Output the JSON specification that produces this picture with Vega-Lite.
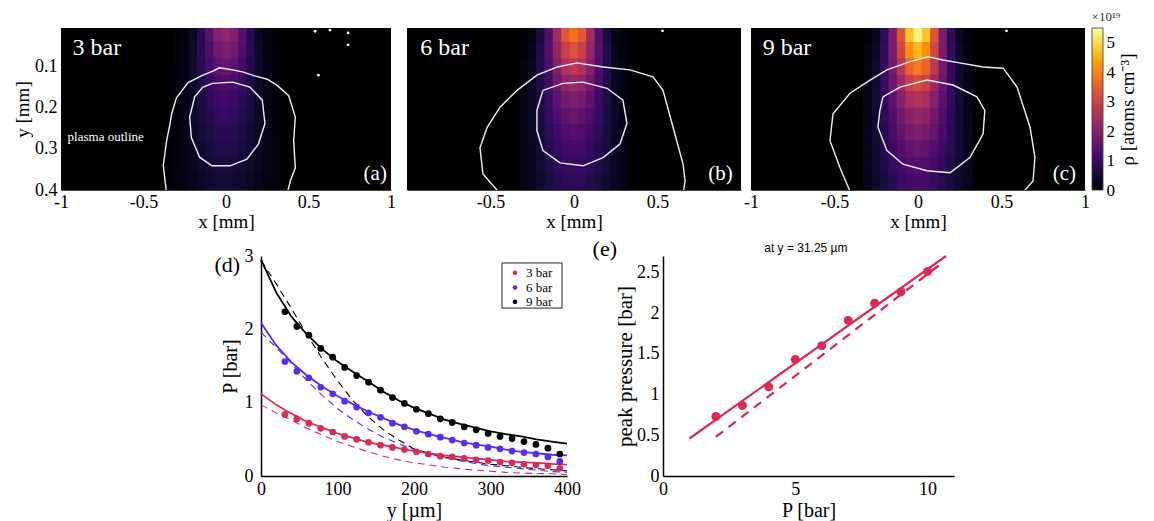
{
"$schema":"https://vega.github.io/schema/vega-lite/v6.json",
"padding":{"left":13,"top":10,"right":5,"bottom":5},
"config":{
 "font":"Liberation Serif",
 "view":{"stroke":null},
 "axis":{"labelFont":"Liberation Serif","titleFont":"Liberation Serif","labelColor":"black","titleColor":"black","titleFontWeight":"normal","grid":false,"ticks":false,"labelFlush":false,"domainColor":"black","labelFontSize":18,"titleFontSize":20,"labelPadding":4,"titlePadding":2},
 "legend":{"labelFont":"Liberation Serif","titleFont":"Liberation Serif"},
 "title":{"font":"Liberation Serif","fontWeight":"normal","color":"black"}
},
"datasets":{
"ha":[
{"x":-0.3,"y":0.02,"v":0.04},{"x":-0.25,"y":0.02,"v":0.12},{"x":-0.2,"y":0.02,"v":0.35},{"x":-0.15,"y":0.02,"v":0.78},{"x":-0.1,"y":0.02,"v":1.39},{"x":-0.05,"y":0.02,"v":1.96},{"x":0,"y":0.02,"v":2.2},{"x":0.05,"y":0.02,"v":1.96},{"x":0.1,"y":0.02,"v":1.39},{"x":0.15,"y":0.02,"v":0.78},{"x":0.2,"y":0.02,"v":0.35},{"x":0.25,"y":0.02,"v":0.12},{"x":0.3,"y":0.02,"v":0.04},
{"x":-0.3,"y":0.06,"v":0.05},{"x":-0.25,"y":0.06,"v":0.16},{"x":-0.2,"y":0.06,"v":0.39},{"x":-0.15,"y":0.06,"v":0.78},{"x":-0.1,"y":0.06,"v":1.27},{"x":-0.05,"y":0.06,"v":1.72},{"x":0,"y":0.06,"v":1.9},{"x":0.05,"y":0.06,"v":1.72},{"x":0.1,"y":0.06,"v":1.27},{"x":0.15,"y":0.06,"v":0.78},{"x":0.2,"y":0.06,"v":0.39},{"x":0.25,"y":0.06,"v":0.16},{"x":0.3,"y":0.06,"v":0.05},
{"x":-0.3,"y":0.1,"v":0.07},{"x":-0.25,"y":0.1,"v":0.18},{"x":-0.2,"y":0.1,"v":0.4},{"x":-0.15,"y":0.1,"v":0.73},{"x":-0.1,"y":0.1,"v":1.13},{"x":-0.05,"y":0.1,"v":1.47},{"x":0,"y":0.1,"v":1.6},{"x":0.05,"y":0.1,"v":1.47},{"x":0.1,"y":0.1,"v":1.13},{"x":0.15,"y":0.1,"v":0.73},{"x":0.2,"y":0.1,"v":0.4},{"x":0.25,"y":0.1,"v":0.18},{"x":0.3,"y":0.1,"v":0.07},
{"x":-0.3,"y":0.14,"v":0.08},{"x":-0.25,"y":0.14,"v":0.19},{"x":-0.2,"y":0.14,"v":0.38},{"x":-0.15,"y":0.14,"v":0.65},{"x":-0.1,"y":0.14,"v":0.96},{"x":-0.05,"y":0.14,"v":1.21},{"x":0,"y":0.14,"v":1.3},{"x":0.05,"y":0.14,"v":1.21},{"x":0.1,"y":0.14,"v":0.96},{"x":0.15,"y":0.14,"v":0.65},{"x":0.2,"y":0.14,"v":0.38},{"x":0.25,"y":0.14,"v":0.19},{"x":0.3,"y":0.14,"v":0.08},
{"x":-0.3,"y":0.18,"v":0.1},{"x":-0.25,"y":0.18,"v":0.2},{"x":-0.2,"y":0.18,"v":0.37},{"x":-0.15,"y":0.18,"v":0.6},{"x":-0.1,"y":0.18,"v":0.84},{"x":-0.05,"y":0.18,"v":1.03},{"x":0,"y":0.18,"v":1.1},{"x":0.05,"y":0.18,"v":1.03},{"x":0.1,"y":0.18,"v":0.84},{"x":0.15,"y":0.18,"v":0.6},{"x":0.2,"y":0.18,"v":0.37},{"x":0.25,"y":0.18,"v":0.2},{"x":0.3,"y":0.18,"v":0.1},
{"x":-0.3,"y":0.22,"v":0.11},{"x":-0.25,"y":0.22,"v":0.21},{"x":-0.2,"y":0.22,"v":0.36},{"x":-0.15,"y":0.22,"v":0.55},{"x":-0.1,"y":0.22,"v":0.75},{"x":-0.05,"y":0.22,"v":0.89},{"x":0,"y":0.22,"v":0.95},{"x":0.05,"y":0.22,"v":0.89},{"x":0.1,"y":0.22,"v":0.75},{"x":0.15,"y":0.22,"v":0.55},{"x":0.2,"y":0.22,"v":0.36},{"x":0.25,"y":0.22,"v":0.21},{"x":0.3,"y":0.22,"v":0.11},
{"x":-0.3,"y":0.26,"v":0.11},{"x":-0.25,"y":0.26,"v":0.21},{"x":-0.2,"y":0.26,"v":0.34},{"x":-0.15,"y":0.26,"v":0.49},{"x":-0.1,"y":0.26,"v":0.64},{"x":-0.05,"y":0.26,"v":0.76},{"x":0,"y":0.26,"v":0.8},{"x":0.05,"y":0.26,"v":0.76},{"x":0.1,"y":0.26,"v":0.64},{"x":0.15,"y":0.26,"v":0.49},{"x":0.2,"y":0.26,"v":0.34},{"x":0.25,"y":0.26,"v":0.21},{"x":0.3,"y":0.26,"v":0.11},
{"x":-0.3,"y":0.3,"v":0.12},{"x":-0.25,"y":0.3,"v":0.21},{"x":-0.2,"y":0.3,"v":0.32},{"x":-0.15,"y":0.3,"v":0.45},{"x":-0.1,"y":0.3,"v":0.58},{"x":-0.05,"y":0.3,"v":0.67},{"x":0,"y":0.3,"v":0.7},{"x":0.05,"y":0.3,"v":0.67},{"x":0.1,"y":0.3,"v":0.58},{"x":0.15,"y":0.3,"v":0.45},{"x":0.2,"y":0.3,"v":0.32},{"x":0.25,"y":0.3,"v":0.21},{"x":0.3,"y":0.3,"v":0.12},
{"x":-0.3,"y":0.34,"v":0.12},{"x":-0.25,"y":0.34,"v":0.2},{"x":-0.2,"y":0.34,"v":0.3},{"x":-0.15,"y":0.34,"v":0.4},{"x":-0.1,"y":0.34,"v":0.5},{"x":-0.05,"y":0.34,"v":0.57},{"x":0,"y":0.34,"v":0.6},{"x":0.05,"y":0.34,"v":0.57},{"x":0.1,"y":0.34,"v":0.5},{"x":0.15,"y":0.34,"v":0.4},{"x":0.2,"y":0.34,"v":0.3},{"x":0.25,"y":0.34,"v":0.2},{"x":0.3,"y":0.34,"v":0.12},
{"x":-0.3,"y":0.38,"v":0.12},{"x":-0.25,"y":0.38,"v":0.18},{"x":-0.2,"y":0.38,"v":0.26},{"x":-0.15,"y":0.38,"v":0.35},{"x":-0.1,"y":0.38,"v":0.43},{"x":-0.05,"y":0.38,"v":0.48},{"x":0,"y":0.38,"v":0.5},{"x":0.05,"y":0.38,"v":0.48},{"x":0.1,"y":0.38,"v":0.43},{"x":0.15,"y":0.38,"v":0.35},{"x":0.2,"y":0.38,"v":0.26},{"x":0.25,"y":0.38,"v":0.18},{"x":0.3,"y":0.38,"v":0.12}
],
"hb":[
{"x":-0.3,"y":0.02,"v":0.06},{"x":-0.25,"y":0.02,"v":0.21},{"x":-0.2,"y":0.02,"v":0.6},{"x":-0.15,"y":0.02,"v":1.34},{"x":-0.1,"y":0.02,"v":2.39},{"x":-0.05,"y":0.02,"v":3.39},{"x":0,"y":0.02,"v":3.8},{"x":0.05,"y":0.02,"v":3.39},{"x":0.1,"y":0.02,"v":2.39},{"x":0.15,"y":0.02,"v":1.34},{"x":0.2,"y":0.02,"v":0.6},{"x":0.25,"y":0.02,"v":0.21},{"x":0.3,"y":0.02,"v":0.06},
{"x":-0.3,"y":0.06,"v":0.09},{"x":-0.25,"y":0.06,"v":0.27},{"x":-0.2,"y":0.06,"v":0.67},{"x":-0.15,"y":0.06,"v":1.35},{"x":-0.1,"y":0.06,"v":2.21},{"x":-0.05,"y":0.06,"v":2.99},{"x":0,"y":0.06,"v":3.3},{"x":0.05,"y":0.06,"v":2.99},{"x":0.1,"y":0.06,"v":2.21},{"x":0.15,"y":0.06,"v":1.35},{"x":0.2,"y":0.06,"v":0.67},{"x":0.25,"y":0.06,"v":0.27},{"x":0.3,"y":0.06,"v":0.09},
{"x":-0.3,"y":0.1,"v":0.12},{"x":-0.25,"y":0.1,"v":0.32},{"x":-0.2,"y":0.1,"v":0.7},{"x":-0.15,"y":0.1,"v":1.28},{"x":-0.1,"y":0.1,"v":1.98},{"x":-0.05,"y":0.1,"v":2.57},{"x":0,"y":0.1,"v":2.8},{"x":0.05,"y":0.1,"v":2.57},{"x":0.1,"y":0.1,"v":1.98},{"x":0.15,"y":0.1,"v":1.28},{"x":0.2,"y":0.1,"v":0.7},{"x":0.25,"y":0.1,"v":0.32},{"x":0.3,"y":0.1,"v":0.12},
{"x":-0.3,"y":0.14,"v":0.15},{"x":-0.25,"y":0.14,"v":0.34},{"x":-0.2,"y":0.14,"v":0.68},{"x":-0.15,"y":0.14,"v":1.16},{"x":-0.1,"y":0.14,"v":1.7},{"x":-0.05,"y":0.14,"v":2.13},{"x":0,"y":0.14,"v":2.3},{"x":0.05,"y":0.14,"v":2.13},{"x":0.1,"y":0.14,"v":1.7},{"x":0.15,"y":0.14,"v":1.16},{"x":0.2,"y":0.14,"v":0.68},{"x":0.25,"y":0.14,"v":0.34},{"x":0.3,"y":0.14,"v":0.15},
{"x":-0.3,"y":0.18,"v":0.17},{"x":-0.25,"y":0.18,"v":0.35},{"x":-0.2,"y":0.18,"v":0.64},{"x":-0.15,"y":0.18,"v":1.03},{"x":-0.1,"y":0.18,"v":1.45},{"x":-0.05,"y":0.18,"v":1.78},{"x":0,"y":0.18,"v":1.9},{"x":0.05,"y":0.18,"v":1.78},{"x":0.1,"y":0.18,"v":1.45},{"x":0.15,"y":0.18,"v":1.03},{"x":0.2,"y":0.18,"v":0.64},{"x":0.25,"y":0.18,"v":0.35},{"x":0.3,"y":0.18,"v":0.17},
{"x":-0.3,"y":0.22,"v":0.18},{"x":-0.25,"y":0.22,"v":0.36},{"x":-0.2,"y":0.22,"v":0.61},{"x":-0.15,"y":0.22,"v":0.93},{"x":-0.1,"y":0.22,"v":1.26},{"x":-0.05,"y":0.22,"v":1.51},{"x":0,"y":0.22,"v":1.6},{"x":0.05,"y":0.22,"v":1.51},{"x":0.1,"y":0.22,"v":1.26},{"x":0.15,"y":0.22,"v":0.93},{"x":0.2,"y":0.22,"v":0.61},{"x":0.25,"y":0.22,"v":0.36},{"x":0.3,"y":0.22,"v":0.18},
{"x":-0.3,"y":0.26,"v":0.19},{"x":-0.25,"y":0.26,"v":0.35},{"x":-0.2,"y":0.26,"v":0.57},{"x":-0.15,"y":0.26,"v":0.83},{"x":-0.1,"y":0.26,"v":1.09},{"x":-0.05,"y":0.26,"v":1.28},{"x":0,"y":0.26,"v":1.35},{"x":0.05,"y":0.26,"v":1.28},{"x":0.1,"y":0.26,"v":1.09},{"x":0.15,"y":0.26,"v":0.83},{"x":0.2,"y":0.26,"v":0.57},{"x":0.25,"y":0.26,"v":0.35},{"x":0.3,"y":0.26,"v":0.19},
{"x":-0.3,"y":0.3,"v":0.2},{"x":-0.25,"y":0.3,"v":0.34},{"x":-0.2,"y":0.3,"v":0.53},{"x":-0.15,"y":0.3,"v":0.74},{"x":-0.1,"y":0.3,"v":0.95},{"x":-0.05,"y":0.3,"v":1.09},{"x":0,"y":0.3,"v":1.15},{"x":0.05,"y":0.3,"v":1.09},{"x":0.1,"y":0.3,"v":0.95},{"x":0.15,"y":0.3,"v":0.74},{"x":0.2,"y":0.3,"v":0.53},{"x":0.25,"y":0.3,"v":0.34},{"x":0.3,"y":0.3,"v":0.2},
{"x":-0.3,"y":0.34,"v":0.2},{"x":-0.25,"y":0.34,"v":0.33},{"x":-0.2,"y":0.34,"v":0.49},{"x":-0.15,"y":0.34,"v":0.67},{"x":-0.1,"y":0.34,"v":0.84},{"x":-0.05,"y":0.34,"v":0.96},{"x":0,"y":0.34,"v":1.0},{"x":0.05,"y":0.34,"v":0.96},{"x":0.1,"y":0.34,"v":0.84},{"x":0.15,"y":0.34,"v":0.67},{"x":0.2,"y":0.34,"v":0.49},{"x":0.25,"y":0.34,"v":0.33},{"x":0.3,"y":0.34,"v":0.2},
{"x":-0.3,"y":0.38,"v":0.2},{"x":-0.25,"y":0.38,"v":0.31},{"x":-0.2,"y":0.38,"v":0.45},{"x":-0.15,"y":0.38,"v":0.59},{"x":-0.1,"y":0.38,"v":0.72},{"x":-0.05,"y":0.38,"v":0.82},{"x":0,"y":0.38,"v":0.85},{"x":0.05,"y":0.38,"v":0.82},{"x":0.1,"y":0.38,"v":0.72},{"x":0.15,"y":0.38,"v":0.59},{"x":0.2,"y":0.38,"v":0.45},{"x":0.25,"y":0.38,"v":0.31},{"x":0.3,"y":0.38,"v":0.2}
],
"hc":[
{"x":-0.3,"y":0.02,"v":0.08},{"x":-0.25,"y":0.02,"v":0.3},{"x":-0.2,"y":0.02,"v":0.83},{"x":-0.15,"y":0.02,"v":1.87},{"x":-0.1,"y":0.02,"v":3.34},{"x":-0.05,"y":0.02,"v":4.72},{"x":0,"y":0.02,"v":5.3},{"x":0.05,"y":0.02,"v":4.72},{"x":0.1,"y":0.02,"v":3.34},{"x":0.15,"y":0.02,"v":1.87},{"x":0.2,"y":0.02,"v":0.83},{"x":0.25,"y":0.02,"v":0.3},{"x":0.3,"y":0.02,"v":0.08},
{"x":-0.3,"y":0.06,"v":0.13},{"x":-0.25,"y":0.06,"v":0.38},{"x":-0.2,"y":0.06,"v":0.93},{"x":-0.15,"y":0.06,"v":1.88},{"x":-0.1,"y":0.06,"v":3.09},{"x":-0.05,"y":0.06,"v":4.16},{"x":0,"y":0.06,"v":4.6},{"x":0.05,"y":0.06,"v":4.16},{"x":0.1,"y":0.06,"v":3.09},{"x":0.15,"y":0.06,"v":1.88},{"x":0.2,"y":0.06,"v":0.93},{"x":0.25,"y":0.06,"v":0.38},{"x":0.3,"y":0.06,"v":0.13},
{"x":-0.3,"y":0.1,"v":0.17},{"x":-0.25,"y":0.1,"v":0.44},{"x":-0.2,"y":0.1,"v":0.97},{"x":-0.15,"y":0.1,"v":1.79},{"x":-0.1,"y":0.1,"v":2.76},{"x":-0.05,"y":0.1,"v":3.58},{"x":0,"y":0.1,"v":3.9},{"x":0.05,"y":0.1,"v":3.58},{"x":0.1,"y":0.1,"v":2.76},{"x":0.15,"y":0.1,"v":1.79},{"x":0.2,"y":0.1,"v":0.97},{"x":0.25,"y":0.1,"v":0.44},{"x":0.3,"y":0.1,"v":0.17},
{"x":-0.3,"y":0.14,"v":0.2},{"x":-0.25,"y":0.14,"v":0.47},{"x":-0.2,"y":0.14,"v":0.94},{"x":-0.15,"y":0.14,"v":1.61},{"x":-0.1,"y":0.14,"v":2.36},{"x":-0.05,"y":0.14,"v":2.97},{"x":0,"y":0.14,"v":3.2},{"x":0.05,"y":0.14,"v":2.97},{"x":0.1,"y":0.14,"v":2.36},{"x":0.15,"y":0.14,"v":1.61},{"x":0.2,"y":0.14,"v":0.94},{"x":0.25,"y":0.14,"v":0.47},{"x":0.3,"y":0.14,"v":0.2},
{"x":-0.3,"y":0.18,"v":0.23},{"x":-0.25,"y":0.18,"v":0.49},{"x":-0.2,"y":0.18,"v":0.9},{"x":-0.15,"y":0.18,"v":1.44},{"x":-0.1,"y":0.18,"v":2.02},{"x":-0.05,"y":0.18,"v":2.48},{"x":0,"y":0.18,"v":2.65},{"x":0.05,"y":0.18,"v":2.48},{"x":0.1,"y":0.18,"v":2.02},{"x":0.15,"y":0.18,"v":1.44},{"x":0.2,"y":0.18,"v":0.9},{"x":0.25,"y":0.18,"v":0.49},{"x":0.3,"y":0.18,"v":0.23},
{"x":-0.3,"y":0.22,"v":0.25},{"x":-0.25,"y":0.22,"v":0.49},{"x":-0.2,"y":0.22,"v":0.84},{"x":-0.15,"y":0.22,"v":1.28},{"x":-0.1,"y":0.22,"v":1.73},{"x":-0.05,"y":0.22,"v":2.07},{"x":0,"y":0.22,"v":2.2},{"x":0.05,"y":0.22,"v":2.07},{"x":0.1,"y":0.22,"v":1.73},{"x":0.15,"y":0.22,"v":1.28},{"x":0.2,"y":0.22,"v":0.84},{"x":0.25,"y":0.22,"v":0.49},{"x":0.3,"y":0.22,"v":0.25},
{"x":-0.3,"y":0.26,"v":0.27},{"x":-0.25,"y":0.26,"v":0.49},{"x":-0.2,"y":0.26,"v":0.8},{"x":-0.15,"y":0.26,"v":1.17},{"x":-0.1,"y":0.26,"v":1.53},{"x":-0.05,"y":0.26,"v":1.8},{"x":0,"y":0.26,"v":1.9},{"x":0.05,"y":0.26,"v":1.8},{"x":0.1,"y":0.26,"v":1.53},{"x":0.15,"y":0.26,"v":1.17},{"x":0.2,"y":0.26,"v":0.8},{"x":0.25,"y":0.26,"v":0.49},{"x":0.3,"y":0.26,"v":0.27},
{"x":-0.3,"y":0.3,"v":0.28},{"x":-0.25,"y":0.3,"v":0.47},{"x":-0.2,"y":0.3,"v":0.73},{"x":-0.15,"y":0.3,"v":1.03},{"x":-0.1,"y":0.3,"v":1.32},{"x":-0.05,"y":0.3,"v":1.52},{"x":0,"y":0.3,"v":1.6},{"x":0.05,"y":0.3,"v":1.52},{"x":0.1,"y":0.3,"v":1.32},{"x":0.15,"y":0.3,"v":1.03},{"x":0.2,"y":0.3,"v":0.73},{"x":0.25,"y":0.3,"v":0.47},{"x":0.3,"y":0.3,"v":0.28},
{"x":-0.3,"y":0.34,"v":0.27},{"x":-0.25,"y":0.34,"v":0.45},{"x":-0.2,"y":0.34,"v":0.66},{"x":-0.15,"y":0.34,"v":0.91},{"x":-0.1,"y":0.34,"v":1.13},{"x":-0.05,"y":0.34,"v":1.29},{"x":0,"y":0.34,"v":1.35},{"x":0.05,"y":0.34,"v":1.29},{"x":0.1,"y":0.34,"v":1.13},{"x":0.15,"y":0.34,"v":0.91},{"x":0.2,"y":0.34,"v":0.66},{"x":0.25,"y":0.34,"v":0.45},{"x":0.3,"y":0.34,"v":0.27},
{"x":-0.3,"y":0.38,"v":0.27},{"x":-0.25,"y":0.38,"v":0.42},{"x":-0.2,"y":0.38,"v":0.6},{"x":-0.15,"y":0.38,"v":0.8},{"x":-0.1,"y":0.38,"v":0.98},{"x":-0.05,"y":0.38,"v":1.1},{"x":0,"y":0.38,"v":1.15},{"x":0.05,"y":0.38,"v":1.1},{"x":0.1,"y":0.38,"v":0.98},{"x":0.15,"y":0.38,"v":0.8},{"x":0.2,"y":0.38,"v":0.6},{"x":0.25,"y":0.38,"v":0.42},{"x":0.3,"y":0.38,"v":0.27}
],
"ca":[
{"c":"o","i":0,"x":-0.36,"y":0.41},{"c":"o","i":1,"x":-0.38,"y":0.34},{"c":"o","i":2,"x":-0.37,"y":0.31},{"c":"o","i":3,"x":-0.36,"y":0.28},{"c":"o","i":4,"x":-0.34,"y":0.24},{"c":"o","i":5,"x":-0.33,"y":0.215},{"c":"o","i":6,"x":-0.3,"y":0.175},{"c":"o","i":7,"x":-0.23,"y":0.138},{"c":"o","i":8,"x":-0.14,"y":0.12},{"c":"o","i":9,"x":-0.08,"y":0.11},{"c":"o","i":10,"x":-0.04,"y":0.102},{"c":"o","i":11,"x":0.04,"y":0.107},{"c":"o","i":12,"x":0.1,"y":0.112},{"c":"o","i":13,"x":0.16,"y":0.12},{"c":"o","i":14,"x":0.25,"y":0.13},{"c":"o","i":15,"x":0.31,"y":0.145},{"c":"o","i":16,"x":0.38,"y":0.17},{"c":"o","i":17,"x":0.42,"y":0.222},{"c":"o","i":18,"x":0.41,"y":0.28},{"c":"o","i":19,"x":0.42,"y":0.346},{"c":"o","i":20,"x":0.39,"y":0.378},{"c":"o","i":21,"x":0.37,"y":0.41},
{"c":"n","i":0,"x":-0.08,"y":0.14},{"c":"n","i":1,"x":0.04,"y":0.137},{"c":"n","i":2,"x":0.145,"y":0.149},{"c":"n","i":3,"x":0.22,"y":0.181},{"c":"n","i":4,"x":0.236,"y":0.238},{"c":"n","i":5,"x":0.196,"y":0.288},{"c":"n","i":6,"x":0.127,"y":0.325},{"c":"n","i":7,"x":0.024,"y":0.341},{"c":"n","i":8,"x":-0.085,"y":0.341},{"c":"n","i":9,"x":-0.16,"y":0.32},{"c":"n","i":10,"x":-0.21,"y":0.272},{"c":"n","i":11,"x":-0.22,"y":0.222},{"c":"n","i":12,"x":-0.19,"y":0.173},{"c":"n","i":13,"x":-0.14,"y":0.149},{"c":"n","i":14,"x":-0.08,"y":0.14}
],
"cb":[
{"c":"o","i":0,"x":-0.44,"y":0.41},{"c":"o","i":1,"x":-0.545,"y":0.361},{"c":"o","i":2,"x":-0.563,"y":0.297},{"c":"o","i":3,"x":-0.52,"y":0.247},{"c":"o","i":4,"x":-0.443,"y":0.198},{"c":"o","i":5,"x":-0.341,"y":0.157},{"c":"o","i":6,"x":-0.222,"y":0.12},{"c":"o","i":7,"x":-0.1,"y":0.1},{"c":"o","i":8,"x":0.018,"y":0.09},{"c":"o","i":9,"x":0.174,"y":0.1},{"c":"o","i":10,"x":0.335,"y":0.107},{"c":"o","i":11,"x":0.473,"y":0.124},{"c":"o","i":12,"x":0.533,"y":0.157},{"c":"o","i":13,"x":0.593,"y":0.247},{"c":"o","i":14,"x":0.653,"y":0.337},{"c":"o","i":15,"x":0.665,"y":0.378},{"c":"o","i":16,"x":0.653,"y":0.41},
{"c":"n","i":0,"x":-0.186,"y":0.157},{"c":"n","i":1,"x":-0.066,"y":0.14},{"c":"n","i":2,"x":0.054,"y":0.137},{"c":"n","i":3,"x":0.198,"y":0.152},{"c":"n","i":4,"x":0.293,"y":0.181},{"c":"n","i":5,"x":0.317,"y":0.238},{"c":"n","i":6,"x":0.275,"y":0.288},{"c":"n","i":7,"x":0.174,"y":0.321},{"c":"n","i":8,"x":0.054,"y":0.341},{"c":"n","i":9,"x":-0.084,"y":0.334},{"c":"n","i":10,"x":-0.186,"y":0.304},{"c":"n","i":11,"x":-0.222,"y":0.255},{"c":"n","i":12,"x":-0.222,"y":0.206},{"c":"n","i":13,"x":-0.186,"y":0.157}
],
"cc":[
{"c":"o","i":0,"x":-0.4,"y":0.41},{"c":"o","i":1,"x":-0.467,"y":0.346},{"c":"o","i":2,"x":-0.527,"y":0.28},{"c":"o","i":3,"x":-0.509,"y":0.214},{"c":"o","i":4,"x":-0.407,"y":0.164},{"c":"o","i":5,"x":-0.287,"y":0.132},{"c":"o","i":6,"x":-0.186,"y":0.107},{"c":"o","i":7,"x":-0.048,"y":0.087},{"c":"o","i":8,"x":0.06,"y":0.075},{"c":"o","i":9,"x":0.15,"y":0.083},{"c":"o","i":10,"x":0.25,"y":0.09},{"c":"o","i":11,"x":0.39,"y":0.1},{"c":"o","i":12,"x":0.51,"y":0.103},{"c":"o","i":13,"x":0.593,"y":0.149},{"c":"o","i":14,"x":0.671,"y":0.247},{"c":"o","i":15,"x":0.7,"y":0.321},{"c":"o","i":16,"x":0.689,"y":0.378},{"c":"o","i":17,"x":0.62,"y":0.41},
{"c":"n","i":0,"x":-0.21,"y":0.173},{"c":"n","i":1,"x":-0.108,"y":0.149},{"c":"n","i":2,"x":0.054,"y":0.132},{"c":"n","i":3,"x":0.21,"y":0.144},{"c":"n","i":4,"x":0.353,"y":0.173},{"c":"n","i":5,"x":0.4,"y":0.206},{"c":"n","i":6,"x":0.39,"y":0.263},{"c":"n","i":7,"x":0.311,"y":0.321},{"c":"n","i":8,"x":0.192,"y":0.358},{"c":"n","i":9,"x":0.054,"y":0.353},{"c":"n","i":10,"x":-0.09,"y":0.337},{"c":"n","i":11,"x":-0.186,"y":0.304},{"c":"n","i":12,"x":-0.24,"y":0.247},{"c":"n","i":13,"x":-0.228,"y":0.206},{"c":"n","i":14,"x":-0.21,"y":0.173}
],
"dp":[
{"s":"9 bar","x":31.25,"y":2.24},{"s":"9 bar","x":46.875,"y":2.04},{"s":"9 bar","x":62.5,"y":1.92},{"s":"9 bar","x":78.125,"y":1.74},{"s":"9 bar","x":93.75,"y":1.62},{"s":"9 bar","x":109.375,"y":1.48},{"s":"9 bar","x":125,"y":1.37},{"s":"9 bar","x":140.625,"y":1.28},{"s":"9 bar","x":156.25,"y":1.17},{"s":"9 bar","x":171.875,"y":1.07},{"s":"9 bar","x":187.5,"y":0.99},{"s":"9 bar","x":203.125,"y":0.91},{"s":"9 bar","x":218.75,"y":0.85},{"s":"9 bar","x":234.375,"y":0.78},{"s":"9 bar","x":250,"y":0.73},{"s":"9 bar","x":265.625,"y":0.67},{"s":"9 bar","x":281.25,"y":0.63},{"s":"9 bar","x":296.875,"y":0.58},{"s":"9 bar","x":312.5,"y":0.54},{"s":"9 bar","x":328.125,"y":0.51},{"s":"9 bar","x":343.75,"y":0.47},{"s":"9 bar","x":359.375,"y":0.43},{"s":"9 bar","x":375,"y":0.38},{"s":"9 bar","x":390.625,"y":0.3},
{"s":"6 bar","x":31.25,"y":1.56},{"s":"6 bar","x":46.875,"y":1.43},{"s":"6 bar","x":62.5,"y":1.34},{"s":"6 bar","x":78.125,"y":1.21},{"s":"6 bar","x":93.75,"y":1.12},{"s":"6 bar","x":109.375,"y":1.02},{"s":"6 bar","x":125,"y":0.94},{"s":"6 bar","x":140.625,"y":0.86},{"s":"6 bar","x":156.25,"y":0.8},{"s":"6 bar","x":171.875,"y":0.72},{"s":"6 bar","x":187.5,"y":0.67},{"s":"6 bar","x":203.125,"y":0.61},{"s":"6 bar","x":218.75,"y":0.57},{"s":"6 bar","x":234.375,"y":0.53},{"s":"6 bar","x":250,"y":0.49},{"s":"6 bar","x":265.625,"y":0.45},{"s":"6 bar","x":281.25,"y":0.42},{"s":"6 bar","x":296.875,"y":0.39},{"s":"6 bar","x":312.5,"y":0.37},{"s":"6 bar","x":328.125,"y":0.34},{"s":"6 bar","x":343.75,"y":0.32},{"s":"6 bar","x":359.375,"y":0.3},{"s":"6 bar","x":375,"y":0.26},{"s":"6 bar","x":390.625,"y":0.2},
{"s":"3 bar","x":31.25,"y":0.84},{"s":"3 bar","x":46.875,"y":0.78},{"s":"3 bar","x":62.5,"y":0.72},{"s":"3 bar","x":78.125,"y":0.65},{"s":"3 bar","x":93.75,"y":0.6},{"s":"3 bar","x":109.375,"y":0.54},{"s":"3 bar","x":125,"y":0.5},{"s":"3 bar","x":140.625,"y":0.46},{"s":"3 bar","x":156.25,"y":0.42},{"s":"3 bar","x":171.875,"y":0.39},{"s":"3 bar","x":187.5,"y":0.36},{"s":"3 bar","x":203.125,"y":0.33},{"s":"3 bar","x":218.75,"y":0.3},{"s":"3 bar","x":234.375,"y":0.27},{"s":"3 bar","x":250,"y":0.26},{"s":"3 bar","x":265.625,"y":0.24},{"s":"3 bar","x":281.25,"y":0.22},{"s":"3 bar","x":296.875,"y":0.21},{"s":"3 bar","x":312.5,"y":0.19},{"s":"3 bar","x":328.125,"y":0.18},{"s":"3 bar","x":343.75,"y":0.16},{"s":"3 bar","x":359.375,"y":0.15},{"s":"3 bar","x":375,"y":0.14},{"s":"3 bar","x":390.625,"y":0.105}
],
"ds":[
{"s":"9 bar","x":0,"y":2.95},{"s":"9 bar","x":20,"y":2.5},{"s":"9 bar","x":40,"y":2.17},{"s":"9 bar","x":60,"y":1.93},{"s":"9 bar","x":80,"y":1.73},{"s":"9 bar","x":100,"y":1.56},{"s":"9 bar","x":120,"y":1.42},{"s":"9 bar","x":140,"y":1.29},{"s":"9 bar","x":160,"y":1.15},{"s":"9 bar","x":180,"y":1.03},{"s":"9 bar","x":200,"y":0.93},{"s":"9 bar","x":220,"y":0.85},{"s":"9 bar","x":240,"y":0.77},{"s":"9 bar","x":260,"y":0.71},{"s":"9 bar","x":280,"y":0.66},{"s":"9 bar","x":300,"y":0.61},{"s":"9 bar","x":320,"y":0.57},{"s":"9 bar","x":340,"y":0.54},{"s":"9 bar","x":360,"y":0.5},{"s":"9 bar","x":380,"y":0.47},{"s":"9 bar","x":400,"y":0.44},
{"s":"6 bar","x":0,"y":2.09},{"s":"6 bar","x":20,"y":1.78},{"s":"6 bar","x":40,"y":1.55},{"s":"6 bar","x":60,"y":1.37},{"s":"6 bar","x":80,"y":1.22},{"s":"6 bar","x":100,"y":1.09},{"s":"6 bar","x":120,"y":0.98},{"s":"6 bar","x":140,"y":0.88},{"s":"6 bar","x":160,"y":0.79},{"s":"6 bar","x":180,"y":0.7},{"s":"6 bar","x":200,"y":0.63},{"s":"6 bar","x":220,"y":0.57},{"s":"6 bar","x":240,"y":0.52},{"s":"6 bar","x":260,"y":0.47},{"s":"6 bar","x":280,"y":0.43},{"s":"6 bar","x":300,"y":0.4},{"s":"6 bar","x":320,"y":0.36},{"s":"6 bar","x":340,"y":0.33},{"s":"6 bar","x":360,"y":0.31},{"s":"6 bar","x":380,"y":0.29},{"s":"6 bar","x":400,"y":0.28},
{"s":"3 bar","x":0,"y":1.12},{"s":"3 bar","x":20,"y":0.97},{"s":"3 bar","x":40,"y":0.85},{"s":"3 bar","x":60,"y":0.74},{"s":"3 bar","x":80,"y":0.66},{"s":"3 bar","x":100,"y":0.58},{"s":"3 bar","x":120,"y":0.52},{"s":"3 bar","x":140,"y":0.46},{"s":"3 bar","x":160,"y":0.42},{"s":"3 bar","x":180,"y":0.38},{"s":"3 bar","x":200,"y":0.34},{"s":"3 bar","x":220,"y":0.31},{"s":"3 bar","x":240,"y":0.28},{"s":"3 bar","x":260,"y":0.26},{"s":"3 bar","x":280,"y":0.24},{"s":"3 bar","x":300,"y":0.22},{"s":"3 bar","x":320,"y":0.2},{"s":"3 bar","x":340,"y":0.19},{"s":"3 bar","x":360,"y":0.18},{"s":"3 bar","x":380,"y":0.165},{"s":"3 bar","x":400,"y":0.155}
],
"dd":[
{"s":"9 bar","x":0,"y":2.94},{"s":"9 bar","x":20,"y":2.62},{"s":"9 bar","x":40,"y":2.28},{"s":"9 bar","x":60,"y":1.93},{"s":"9 bar","x":80,"y":1.6},{"s":"9 bar","x":100,"y":1.3},{"s":"9 bar","x":120,"y":1.03},{"s":"9 bar","x":140,"y":0.81},{"s":"9 bar","x":160,"y":0.63},{"s":"9 bar","x":180,"y":0.49},{"s":"9 bar","x":200,"y":0.37},{"s":"9 bar","x":220,"y":0.31},{"s":"9 bar","x":240,"y":0.26},{"s":"9 bar","x":260,"y":0.22},{"s":"9 bar","x":280,"y":0.19},{"s":"9 bar","x":300,"y":0.16},{"s":"9 bar","x":320,"y":0.14},{"s":"9 bar","x":340,"y":0.12},{"s":"9 bar","x":360,"y":0.1},{"s":"9 bar","x":380,"y":0.085},{"s":"9 bar","x":400,"y":0.07},
{"s":"6 bar","x":0,"y":1.96},{"s":"6 bar","x":20,"y":1.75},{"s":"6 bar","x":40,"y":1.53},{"s":"6 bar","x":60,"y":1.3},{"s":"6 bar","x":80,"y":1.1},{"s":"6 bar","x":100,"y":0.92},{"s":"6 bar","x":120,"y":0.77},{"s":"6 bar","x":140,"y":0.64},{"s":"6 bar","x":160,"y":0.53},{"s":"6 bar","x":180,"y":0.44},{"s":"6 bar","x":200,"y":0.36},{"s":"6 bar","x":220,"y":0.3},{"s":"6 bar","x":240,"y":0.25},{"s":"6 bar","x":260,"y":0.21},{"s":"6 bar","x":280,"y":0.17},{"s":"6 bar","x":300,"y":0.14},{"s":"6 bar","x":320,"y":0.12},{"s":"6 bar","x":340,"y":0.1},{"s":"6 bar","x":360,"y":0.08},{"s":"6 bar","x":380,"y":0.06},{"s":"6 bar","x":400,"y":0.05},
{"s":"3 bar","x":0,"y":0.97},{"s":"3 bar","x":20,"y":0.86},{"s":"3 bar","x":40,"y":0.76},{"s":"3 bar","x":60,"y":0.65},{"s":"3 bar","x":80,"y":0.56},{"s":"3 bar","x":100,"y":0.47},{"s":"3 bar","x":120,"y":0.4},{"s":"3 bar","x":140,"y":0.33},{"s":"3 bar","x":160,"y":0.27},{"s":"3 bar","x":180,"y":0.22},{"s":"3 bar","x":200,"y":0.18},{"s":"3 bar","x":220,"y":0.15},{"s":"3 bar","x":240,"y":0.12},{"s":"3 bar","x":260,"y":0.1},{"s":"3 bar","x":280,"y":0.08},{"s":"3 bar","x":300,"y":0.065},{"s":"3 bar","x":320,"y":0.05},{"s":"3 bar","x":340,"y":0.04},{"s":"3 bar","x":360,"y":0.035},{"s":"3 bar","x":380,"y":0.03},{"s":"3 bar","x":400,"y":0.02}
],
"leg":[
{"s":"3 bar","x":332,"y":2.77},{"s":"6 bar","x":332,"y":2.57},{"s":"9 bar","x":332,"y":2.375}
]
},
"vconcat":[
{"hconcat":[
 {"width":330,"height":162,"view":{"fill":"black"},
  "encoding":{
   "x":{"field":"x","type":"quantitative","scale":{"domain":[-1,1],"nice":false,"zero":false},"axis":{"values":[-1,-0.5,0,0.5,1],"title":"x [mm]","labelExpr":"''+datum.value","domainColor":"#444","titleFontSize":19,"labelPadding":3,"titlePadding":1}},
   "y":{"field":"y","type":"quantitative","scale":{"domain":[0.005,0.4],"nice":false,"zero":false,"reverse":true},"axis":{"values":[0.1,0.2,0.3,0.4],"title":"y [mm]","labelExpr":"''+datum.value","domain":false,"titleFontSize":19}}},
  "layer":[
   {"data":{"name":"ha"},"mark":{"type":"rect","width":9,"height":17,"clip":true},"encoding":{"color":{"field":"v","type":"quantitative","scale":{"scheme":"inferno","domain":[0,5.5]},"legend":null}}},
   {"data":{"name":"ca"},"mark":{"type":"line","color":"#f0f0f0","strokeWidth":1.4,"clip":true},"encoding":{"detail":{"field":"c"},"order":{"field":"i"}}},
   {"data":{"values":[{"x":0.54,"y":0.013},{"x":0.63,"y":0.01},{"x":0.74,"y":0.017},{"x":0.74,"y":0.046},{"x":0.56,"y":0.12}]},"mark":{"type":"point","filled":true,"color":"white","size":8,"opacity":1}},
   {"data":{"values":[{"t":"3 bar","x":-0.93,"y":0.054}]},"mark":{"type":"text","align":"left","baseline":"middle","fontSize":24,"color":"white"},"encoding":{"text":{"field":"t"}}},
   {"data":{"values":[{"t":"(a)","x":0.975,"y":0.36}]},"mark":{"type":"text","align":"right","baseline":"middle","fontSize":21,"color":"white"},"encoding":{"text":{"field":"t"}}},
   {"data":{"values":[{"t":"plasma outline","x":-0.96,"y":0.271}]},"mark":{"type":"text","align":"left","baseline":"middle","fontSize":13,"color":"white"},"encoding":{"text":{"field":"t"}}}
  ]},
 {"hconcat":[
  {"width":334,"height":162,"view":{"fill":"black"},
   "encoding":{
    "x":{"field":"x","type":"quantitative","scale":{"domain":[-1,1],"nice":false,"zero":false},"axis":{"values":[-0.5,0,0.5],"title":"x [mm]","labelExpr":"''+datum.value","domainColor":"#444","titleFontSize":19,"labelPadding":3,"titlePadding":1}},
    "y":{"field":"y","type":"quantitative","scale":{"domain":[0.005,0.4],"nice":false,"zero":false,"reverse":true},"axis":null}},
   "layer":[
    {"data":{"name":"hb"},"mark":{"type":"rect","width":9,"height":17,"clip":true},"encoding":{"color":{"field":"v","type":"quantitative","scale":{"scheme":"inferno","domain":[0,5.5]},"legend":null}}},
    {"data":{"name":"cb"},"mark":{"type":"line","color":"#f0f0f0","strokeWidth":1.4,"clip":true},"encoding":{"detail":{"field":"c"},"order":{"field":"i"}}},
    {"data":{"values":[{"x":0.53,"y":0.012}]},"mark":{"type":"point","filled":true,"color":"white","size":8,"opacity":1}},
    {"data":{"values":[{"t":"6 bar","x":-0.92,"y":0.054}]},"mark":{"type":"text","align":"left","baseline":"middle","fontSize":24,"color":"white"},"encoding":{"text":{"field":"t"}}},
    {"data":{"values":[{"t":"(b)","x":0.95,"y":0.36}]},"mark":{"type":"text","align":"right","baseline":"middle","fontSize":21,"color":"white"},"encoding":{"text":{"field":"t"}}}
   ]},
  {"hconcat":[
   {"width":334,"height":162,"view":{"fill":"black"},
    "encoding":{
     "x":{"field":"x","type":"quantitative","scale":{"domain":[-1,1],"nice":false,"zero":false},"axis":{"values":[-1,-0.5,0,0.5,1],"title":"x [mm]","labelExpr":"''+datum.value","domainColor":"#444","titleFontSize":19,"labelPadding":3,"titlePadding":1}},
     "y":{"field":"y","type":"quantitative","scale":{"domain":[0.005,0.4],"nice":false,"zero":false,"reverse":true},"axis":null}},
    "layer":[
     {"data":{"name":"hc"},"mark":{"type":"rect","width":9,"height":17,"clip":true},"encoding":{"color":{"field":"v","type":"quantitative","scale":{"scheme":"inferno","domain":[0,5.5]},"legend":null}}},
     {"data":{"name":"cc"},"mark":{"type":"line","color":"#f0f0f0","strokeWidth":1.4,"clip":true},"encoding":{"detail":{"field":"c"},"order":{"field":"i"}}},
     {"data":{"values":[{"x":0.53,"y":0.012}]},"mark":{"type":"point","filled":true,"color":"white","size":8,"opacity":1}},
     {"data":{"values":[{"t":"9 bar","x":-0.93,"y":0.054}]},"mark":{"type":"text","align":"left","baseline":"middle","fontSize":24,"color":"white"},"encoding":{"text":{"field":"t"}}},
     {"data":{"values":[{"t":"(c)","x":0.946,"y":0.36}]},"mark":{"type":"text","align":"right","baseline":"middle","fontSize":21,"color":"white"},"encoding":{"text":{"field":"t"}}}
    ]},
   {"width":11,"height":162,
    "title":{"text":"×10¹⁹","fontSize":13,"anchor":"start","offset":4,"color":"#333"},
    "data":{"values":[{"lo":0,"hi":5.5}]},
    "mark":{"type":"rect","stroke":"#333","strokeWidth":0.8,"fill":{"gradient":"linear","x1":0,"y1":1,"x2":0,"y2":0,"stops":[{"offset":0,"color":"#000004"},{"offset":0.1,"color":"#160b39"},{"offset":0.2,"color":"#420a68"},{"offset":0.3,"color":"#6a176e"},{"offset":0.4,"color":"#932667"},{"offset":0.5,"color":"#bc3754"},{"offset":0.6,"color":"#dd513a"},{"offset":0.7,"color":"#f37819"},{"offset":0.8,"color":"#fca50a"},{"offset":0.9,"color":"#f6d746"},{"offset":1,"color":"#fcffa4"}]}},
    "encoding":{
     "y":{"field":"lo","type":"quantitative","scale":{"domain":[0,5.5],"nice":false},"axis":{"orient":"right","values":[0,1,2,3,4,5],"title":"ρ [atoms cm⁻³]","titleAngle":270,"titleBaseline":"top","labelFontSize":17,"titleFontSize":19,"domain":false,"labelPadding":3,"titlePadding":4}},
     "y2":{"field":"hi"},
     "x":{"datum":0,"type":"quantitative","scale":{"domain":[0,1]},"axis":null},
     "x2":{"datum":1}}}
  ],"spacing":7,"bounds":"flush"}
 ],"spacing":10,"bounds":"flush"}
],"spacing":16,"bounds":"flush"},
{"hconcat":[
 {"width":104,"height":220,"data":{"values":[]},"mark":"point"},
 {"width":306,"height":220,
  "encoding":{
   "x":{"field":"x","type":"quantitative","scale":{"domain":[0,400],"nice":false},"axis":{"values":[0,100,200,300,400],"title":"y [µm]","domainWidth":1.5,"titlePadding":2}},
   "y":{"field":"y","type":"quantitative","scale":{"domain":[0,3],"nice":false},"axis":{"values":[0,1,2,3],"title":"P [bar]","domainWidth":1.5,"labelPadding":8,"titlePadding":4}}},
  "layer":[
   {"data":{"name":"dd"},"mark":{"type":"line","strokeDash":[7,5],"strokeWidth":1.1},"encoding":{"stroke":{"field":"s","type":"nominal","scale":{"domain":["3 bar","6 bar","9 bar"],"range":["#d92b55","#5a2bf5","#000000"]},"legend":null}}},
   {"data":{"name":"ds"},"mark":{"type":"line","strokeWidth":1.8},"encoding":{"stroke":{"field":"s","type":"nominal","scale":{"domain":["3 bar","6 bar","9 bar"],"range":["#d92b55","#5a2bf5","#000000"]},"legend":null}}},
   {"data":{"name":"dp"},"mark":{"type":"circle","size":45,"opacity":1},"encoding":{"color":{"field":"s","type":"nominal","scale":{"domain":["3 bar","6 bar","9 bar"],"range":["#d92b55","#5a2bf5","#000000"]},"legend":null}}},
   {"data":{"values":[{"x":315,"x2":393.5,"y":2.29,"y2":2.905}]},"mark":{"type":"rect","fill":"white","stroke":"#222","strokeWidth":1},"encoding":{"x2":{"field":"x2"},"y2":{"field":"y2"}}},
   {"data":{"name":"leg"},"mark":{"type":"circle","size":22,"opacity":1},"encoding":{"color":{"field":"s","type":"nominal","scale":{"domain":["3 bar","6 bar","9 bar"],"range":["#d92b55","#5a2bf5","#000000"]},"legend":null}}},
   {"data":{"name":"leg"},"mark":{"type":"text","align":"left","baseline":"middle","dx":11,"fontSize":13,"color":"black"},"encoding":{"text":{"field":"s"}}},
   {"data":{"values":[{"t":"(d)","x":-44,"y":2.88}]},"mark":{"type":"text","fontSize":22,"align":"center","baseline":"middle"},"encoding":{"text":{"field":"t"}}}
  ]},
 {"width":291,"height":220,
  "encoding":{
   "x":{"field":"x","type":"quantitative","scale":{"domain":[0,11],"nice":false},"axis":{"values":[0,5,10],"title":"P [bar]","domainWidth":1.5,"titlePadding":2}},
   "y":{"field":"y","type":"quantitative","scale":{"domain":[0,2.7],"nice":false},"axis":{"values":[0,0.5,1,1.5,2,2.5],"title":"peak pressure [bar]","labelExpr":"''+datum.value","domainWidth":1.5,"titleFontSize":21,"titlePadding":1}}},
  "layer":[
   {"data":{"values":[{"x":1,"y":0.46},{"x":10.7,"y":2.7}]},"mark":{"type":"line","color":"#d92b55","strokeWidth":2.2}},
   {"data":{"values":[{"x":2,"y":0.48},{"x":10.63,"y":2.635}]},"mark":{"type":"line","color":"#d92b55","strokeWidth":2.4,"strokeDash":[9,7]}},
   {"data":{"values":[{"x":2,"y":0.73},{"x":3,"y":0.865},{"x":4,"y":1.094},{"x":5,"y":1.43},{"x":6,"y":1.6},{"x":7,"y":1.91},{"x":8,"y":2.12},{"x":9,"y":2.26},{"x":10,"y":2.51}]},"mark":{"type":"circle","size":80,"color":"#d92b55","opacity":1}},
   {"data":{"values":[{"t":"(e)","x":-2.2,"y":2.78}]},"mark":{"type":"text","fontSize":22,"align":"center","baseline":"middle"},"encoding":{"text":{"field":"t"}}},
   {"data":{"values":[{"t":"at y = 31.25 µm","x":5.4,"y":2.8}]},"mark":{"type":"text","fontSize":12,"font":"Liberation Sans","align":"center","baseline":"middle"},"encoding":{"text":{"field":"t"}}}
  ]}
],"spacing":96,"bounds":"flush","resolve":{"scale":{"color":"independent","stroke":"independent"},"legend":{"color":"independent"}}}
],
"spacing":228,
"bounds":"flush",
"resolve":{"scale":{"color":"independent","stroke":"independent"},"legend":{"color":"independent"}}
}
